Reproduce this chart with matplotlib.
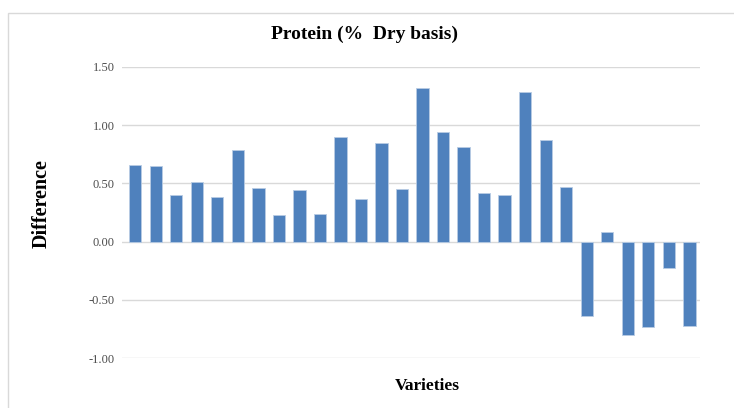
import numpy as np
import matplotlib.pyplot as plt
from matplotlib.patches import Rectangle

# Protein difference per variety (% dry basis)
varieties = np.arange(1, 29)
difference = [0.66, 0.65, 0.40, 0.51, 0.38, 0.79, 0.46, 0.23, 0.44, 0.24,
              0.90, 0.37, 0.85, 0.45, 1.32, 0.94, 0.81, 0.42, 0.40, 1.28,
              0.87, 0.47, -0.64, 0.08, -0.80, -0.73, -0.23, -0.72]
yticks = [-1.00, -0.50, 0.00, 0.50, 1.00, 1.50]

plt.rcParams['font.family'] = ['Liberation Serif', 'DejaVu Serif']

fig = plt.figure(figsize=(7.34, 4.08), dpi=100)
ax = fig.add_axes([0.1658, 0.1218, 0.7879, 0.7147])

# Light frame around the whole chart
fig.patches.append(Rectangle((8 / 734, -0.1), 1.1, (408 - 13) / 408 + 0.1,
                             transform=fig.transFigure, fill=False,
                             edgecolor='#d9d9d9', linewidth=1.0))

ax.bar(varieties, difference, width=0.6, color='#4f81bd',
       edgecolor='#b8cce4', linewidth=0.6, zorder=3)

ax.set_xlim(0.34, 28.52)
ax.set_ylim(-1.0, 1.5)
ax.set_yticks(yticks)
ax.set_yticklabels(['%.2f' % v for v in yticks], fontsize=9, color='#4d4d4d')
ax.set_xticks([])
ax.tick_params(axis='y', length=0, pad=5)
ax.grid(axis='y', color='#d9d9d9', linewidth=1.0, zorder=0)
for s in ax.spines.values():
    s.set_visible(False)

fig.text(0.497, 0.915, 'Protein (%  Dry basis)', ha='center', va='center',
         fontsize=14, fontweight='bold')
fig.text(427 / 734, 1 - 386 / 408, 'Varieties', ha='center', va='center',
         fontsize=12.5, fontweight='bold')
fig.text(42 / 734, 1 - 204 / 408, 'Difference', ha='center', va='center',
         rotation=90, fontsize=14.5, fontweight='bold')

plt.savefig('out.png', dpi=100)
plt.close()
